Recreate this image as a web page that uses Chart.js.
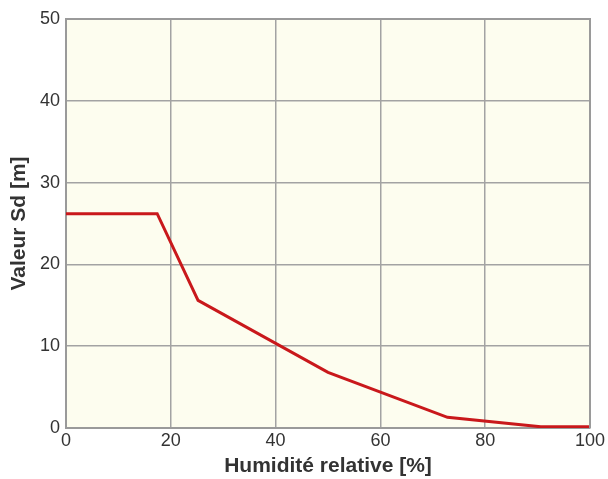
<!DOCTYPE html>
<html>
<head>
<meta charset="utf-8">
<script src="https://cdn.jsdelivr.net/npm/chart.js@4/dist/chart.umd.min.js"></script>
<style>
  html, body { margin: 0; padding: 0; background: #fff; }
  #wrap { width: 608px; height: 479px; }
</style>
</head>
<body>
<div id="wrap"><canvas id="c" width="608" height="479"></canvas></div>
<script>
// humidité relative [%] -> valeur Sd [m]
const humidity = [0, 17.4, 25.2, 50, 72.8, 90.6, 100];
const sdValue = [26.2, 26.2, 15.6, 6.8, 1.3, 0.15, 0.15];
const xTicks = [0, 20, 40, 60, 80, 100];
const yTicks = [0, 10, 20, 30, 40, 50];

const areaBg = {
  id: 'areaBg',
  beforeDraw(chart) {
    const { ctx, chartArea: a } = chart;
    ctx.save();
    ctx.fillStyle = '#fdfdef';
    ctx.fillRect(a.left, a.top, a.right - a.left, a.bottom - a.top);
    ctx.restore();
  }
};

new Chart(document.getElementById('c'), {
  type: 'line',
  data: {
    datasets: [{
      data: humidity.map((h, i) => ({ x: h, y: sdValue[i] })),
      borderColor: '#c9181b',
      borderWidth: 3,
      pointRadius: 0,
      tension: 0,
      fill: false
    }]
  },
  options: {
    responsive: false,
    animation: false,
    layout: { padding: { top: 19, right: 18, left: 0, bottom: 0 } },
    plugins: { legend: { display: false }, tooltip: { enabled: false } },
    scales: {
      x: {
        type: 'linear',
        min: xTicks[0],
        max: xTicks[xTicks.length - 1],
        afterBuildTicks: s => { s.ticks = xTicks.map(v => ({ value: v })); },
        afterFit: s => { s.height = 51; },
        grid: { color: '#a3a3a3', lineWidth: 1.5, drawTicks: false },
        border: { color: '#9a9a9a', width: 2 },
        ticks: { color: '#333', padding: 2, maxRotation: 0, font: { family: 'Liberation Sans', size: 18 } },
        title: {
          display: true,
          text: 'Humidité relative [%]',
          color: '#333',
          padding: { top: 0, bottom: 0 },
          font: { family: 'Liberation Sans', size: 21, weight: 'bold' }
        }
      },
      y: {
        min: yTicks[0],
        max: yTicks[yTicks.length - 1],
        afterBuildTicks: s => { s.ticks = yTicks.map(v => ({ value: v })); },
        afterFit: s => { s.width = 66; },
        grid: { color: '#a3a3a3', lineWidth: 1.5, drawTicks: false },
        border: { color: '#9a9a9a', width: 2 },
        ticks: { color: '#333', padding: 6, font: { family: 'Liberation Sans', size: 18 } },
        title: {
          display: true,
          text: 'Valeur Sd [m]',
          color: '#333',
          padding: { top: 7, bottom: 0 },
          font: { family: 'Liberation Sans', size: 21, weight: 'bold' }
        }
      }
    }
  },
  plugins: [areaBg, {
    id: 'frame',
    afterDatasetsDraw(chart) {
      const { ctx, chartArea: a } = chart;
      ctx.save();
      ctx.strokeStyle = '#9a9a9a';
      ctx.lineWidth = 2;
      ctx.beginPath();
      ctx.moveTo(a.left, a.top);
      ctx.lineTo(a.right, a.top);
      ctx.lineTo(a.right, a.bottom);
      ctx.stroke();
      ctx.restore();
    }
  }]
});
</script>
</body>
</html>
